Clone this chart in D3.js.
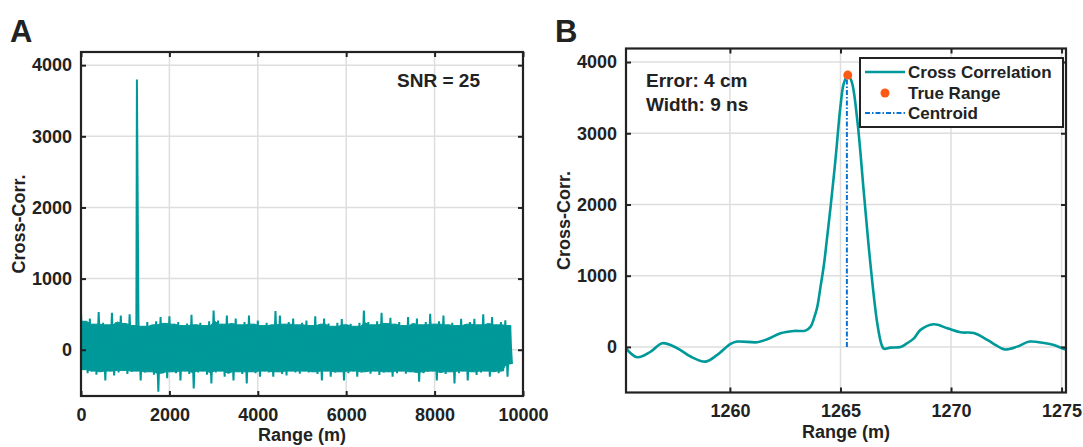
<!DOCTYPE html>
<html><head><meta charset="utf-8">
<script src="https://cdn.jsdelivr.net/npm/d3@7"></script>
<style>
html,body{margin:0;padding:0;background:#fff;}
svg text{font-family:"Liberation Sans",Arial,sans-serif;font-weight:bold;fill:#222;}
</style></head>
<body>
<svg id="chart" width="1083" height="447"></svg>
<script>
// ---------- Panel A data ----------
const noiseStep = 100;                  // m between envelope samples
const noiseHigh = [520,400,440,360,530,380,350,520,390,480,370,500,340,380,330,390,350,400,460,370,
  470,360,390,340,370,490,350,380,340,400,550,410,360,480,370,440,350,390,480,360,
  410,340,380,350,545,480,360,390,440,350,380,410,340,470,360,440,370,330,380,430,
  350,365,330,380,550,390,350,400,520,370,450,360,390,340,460,370,440,350,390,505,
  360,400,480,350,380,340,435,360,390,435,350,500,370,460,350,390,415,340];
const noiseLow = [-280,-330,-300,-350,-310,-430,-300,-360,-320,-290,-340,-310,-300,-430,-320,-310,-350,-590,-330,-400,
  -310,-330,-430,-300,-340,-545,-320,-300,-350,-475,-320,-300,-380,-330,-430,-310,-340,-475,-310,-330,
  -380,-300,-320,-380,-310,-340,-360,-300,-320,-335,-300,-320,-310,-340,-430,-300,-380,-320,-310,-430,
  -330,-300,-380,-320,-310,-335,-300,-355,-320,-310,-380,-330,-300,-335,-310,-320,-450,-330,-310,-300,
  -430,-320,-340,-310,-475,-330,-300,-430,-310,-355,-320,-300,-380,-310,-330,-300,-380,-200];
const peakRangeA = 1265, peakValueA = 3800;
const snrText = "SNR = 25";
const xTicksA = [0,2000,4000,6000,8000,10000];
const yTicks = [0,1000,2000,3000,4000];

// ---------- Panel B data ----------
const rangeB = [1255.29,1255.81,1256.42,1256.94,1257.62,1258.22,1258.9,1259.43,1260.03,1260.33,1261.24,1261.69,
  1262.29,1262.89,1263.42,1263.65,1263.8,1263.95,1264.1,1264.25,1264.4,1264.55,1264.78,1265.0,1265.15,1265.33,
  1265.5,1265.76,1266.06,1266.36,1266.66,1266.85,1266.96,1267.26,1267.72,1268.02,1268.32,1268.62,1269.22,1269.83,
  1270.43,1271.03,1271.64,1272.0,1272.42,1272.99,1273.55,1274.2,1274.65,1275.1,1275.3];
const corrB = [-18,-145,-65,52,-18,-135,-206,-112,42,75,66,108,
  192,224,229,285,400,560,850,1150,1550,1960,2650,3380,3700,3810,
  3730,3186,2157,1150,340,40,-25,-10,0,52,120,239,318,262,
  205,195,100,30,-35,4,75,55,28,-28,-35];
const trueRange = 1265.33, trueValue = 3817;
const centroidRange = 1265.29, centroidTop = 3790;
const xTicksB = [1260,1265,1270,1275];
const notesB = ["Error: 4 cm","Width: 9 ns"];
const legendLabels = ["Cross Correlation","True Range","Centroid"];

const teal = "#00999a", orange = "#ff5a14", blue = "#0a72d0";
const svg = d3.select("#chart");

function panel(o){
  const x = d3.scaleLinear().domain(o.xd).range([o.l,o.r]);
  const y = d3.scaleLinear().domain(o.yd).range([o.b,o.t]);
  const g = svg.append("g");
  g.selectAll(".gx").data(o.xt).enter().append("line")
    .attr("x1",d=>x(d)).attr("x2",d=>x(d)).attr("y1",o.t).attr("y2",o.b)
    .attr("stroke","#dedede").attr("stroke-width",1.5);
  g.selectAll(".gy").data(yTicks).enter().append("line")
    .attr("y1",d=>y(d)).attr("y2",d=>y(d)).attr("x1",o.l).attr("x2",o.r)
    .attr("stroke","#dedede").attr("stroke-width",1.5);
  const cid = "clip"+o.id;
  svg.append("clipPath").attr("id",cid).append("rect")
    .attr("x",o.l).attr("y",o.t).attr("width",o.r-o.l).attr("height",o.b-o.t);
  const dg = g.append("g").attr("clip-path",`url(#${cid})`);
  const ax = g.append("g");
  ax.append("g").attr("transform",`translate(0,${o.b})`)
    .call(d3.axisBottom(x).tickValues(o.xt).tickSizeInner(-5).tickSizeOuter(0).tickPadding(12).tickFormat(d3.format("d")));
  ax.append("g").attr("transform",`translate(0,${o.t})`)
    .call(d3.axisTop(x).tickValues(o.xt).tickSizeInner(-5).tickSizeOuter(0).tickFormat(""));
  ax.append("g").attr("transform",`translate(${o.l},0)`)
    .call(d3.axisLeft(y).tickValues(yTicks).tickSizeInner(-5).tickSizeOuter(0).tickPadding(9).tickFormat(d3.format("d")));
  ax.append("g").attr("transform",`translate(${o.r},0)`)
    .call(d3.axisRight(y).tickValues(yTicks).tickSizeInner(-5).tickSizeOuter(0).tickFormat(""));
  ax.selectAll(".domain").remove();
  ax.selectAll(".tick line").attr("stroke","#222").attr("stroke-width",2);
  ax.selectAll(".tick text").style("font-size","18px").style("font-family","'Liberation Sans',Arial,sans-serif")
    .style("font-weight","bold").attr("fill","#222");
  g.append("rect").attr("x",o.l).attr("y",o.t).attr("width",o.r-o.l).attr("height",o.b-o.t)
    .attr("fill","none").attr("stroke","#222").attr("stroke-width",2.2);
  g.append("text").attr("x",(o.l+o.r)/2).attr("y",o.xlY).attr("text-anchor","middle")
    .style("font-size","18px").text("Range (m)");
  g.append("text").attr("transform",`translate(${o.ylX},${(o.t+o.b)/2}) rotate(-90)`)
    .attr("text-anchor","middle").style("font-size","18px").text("Cross-Corr.");
  g.append("text").attr("x",o.titleX).attr("y",42).style("font-size","31px").attr("fill","#111").text(o.title);
  return {x,y,dg,g};
}

// ---------- Panel A ----------
const A = panel({id:"A",l:81,r:523,t:52,b:396,xd:[0,10000],yd:[-650,4185],xt:xTicksA,
  xlY:441,ylX:25,titleX:10,title:"A"});
// solid core of the band: local inner envelope of the read samples; spikes come from the line
const envA = noiseHigh.map((h,i)=>({
  m:i*noiseStep,
  h:d3.min(noiseHigh.slice(Math.max(0,i-1),i+2)),
  l:d3.max(noiseLow.slice(Math.max(0,i-1),i+2))
}));
A.dg.append("path").datum(envA)
  .attr("d",d3.area().x(d=>A.x(d.m+noiseStep/4)).y0(d=>A.y(d.l)).y1(d=>A.y(d.h)))
  .attr("fill",teal).attr("stroke",teal).attr("stroke-width",1);
const ptsA = [];
noiseHigh.forEach((h,i)=>{
  const m = i*noiseStep;
  ptsA.push([m,h]);
  ptsA.push([m+noiseStep/2,noiseLow[i]]);
  if (m+noiseStep/2 < peakRangeA && m+noiseStep > peakRangeA) ptsA.push([peakRangeA,peakValueA]);
});
A.dg.append("path").datum(ptsA)
  .attr("d",d3.line().x(d=>A.x(d[0])).y(d=>A.y(d[1])))
  .attr("fill","none").attr("stroke",teal).attr("stroke-width",2).attr("stroke-linejoin","miter");
A.g.append("text").attr("x",480).attr("y",87).attr("text-anchor","end").style("font-size","19px").text(snrText);

// ---------- Panel B ----------
const B = panel({id:"B",l:626,r:1066,t:48.5,b:392.5,xd:[1255.3,1275.2],yd:[-640,4190],xt:xTicksB,
  xlY:438,ylX:570,titleX:555,title:"B"});
B.dg.append("path").datum(rangeB.map((r,i)=>[r,corrB[i]]))
  .attr("d",d3.line().x(d=>B.x(d[0])).y(d=>B.y(d[1])).curve(d3.curveCatmullRom.alpha(0.5)))
  .attr("fill","none").attr("stroke",teal).attr("stroke-width",2.6);
B.dg.append("line").attr("x1",B.x(centroidRange)).attr("x2",B.x(centroidRange))
  .attr("y1",B.y(0)).attr("y2",B.y(centroidTop))
  .attr("stroke",blue).attr("stroke-width",2).attr("stroke-dasharray","5,2,1.5,2");
B.dg.append("circle").attr("cx",B.x(trueRange)).attr("cy",B.y(trueValue)).attr("r",4.5).attr("fill",orange);
notesB.forEach((t,i)=>B.g.append("text").attr("x",646).attr("y",87+i*24).style("font-size","19px").text(t));
const lg = B.g.append("g");
lg.append("rect").attr("x",860).attr("y",58).attr("width",203).attr("height",69)
  .attr("fill","#fff").attr("stroke","#222").attr("stroke-width",2);
const rows = [72,93,113];
lg.append("line").attr("x1",865).attr("x2",905).attr("y1",rows[0]).attr("y2",rows[0]).attr("stroke",teal).attr("stroke-width",2.6);
lg.append("circle").attr("cx",885).attr("cy",rows[1]).attr("r",4.5).attr("fill",orange);
lg.append("line").attr("x1",865).attr("x2",905).attr("y1",rows[2]).attr("y2",rows[2]).attr("stroke",blue).attr("stroke-width",2).attr("stroke-dasharray","5,2,1.5,2");
legendLabels.forEach((t,i)=>lg.append("text").attr("x",908).attr("y",rows[i]+6).style("font-size","17px").text(t));
</script>
</body></html>
